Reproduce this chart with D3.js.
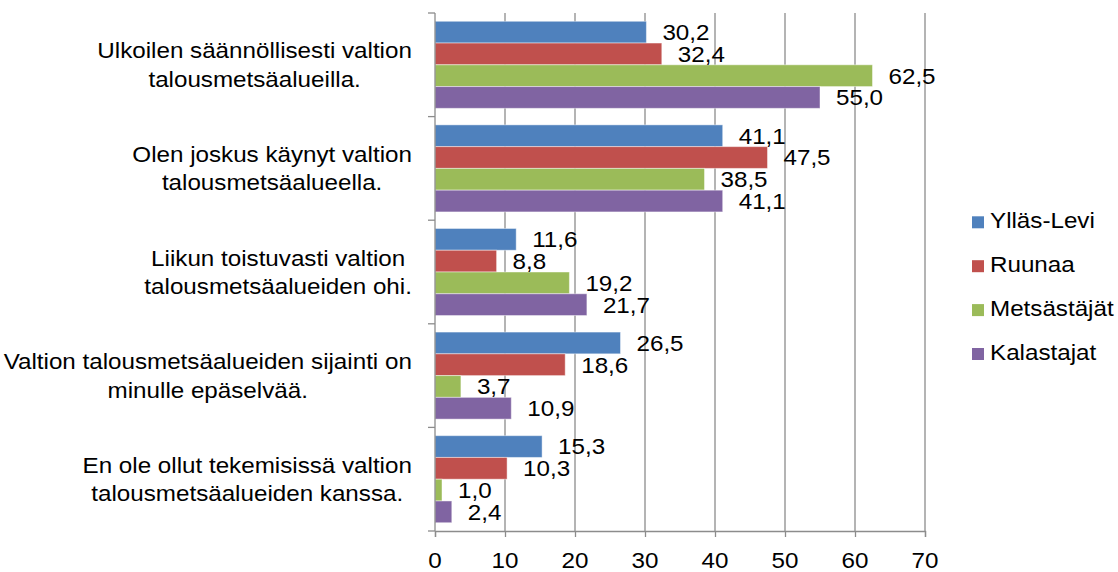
<!DOCTYPE html>
<html>
<head>
<meta charset="utf-8">
<script src="https://cdn.jsdelivr.net/npm/d3@7"></script>
<style>
  html, body { margin: 0; padding: 0; background: #fff; }
  svg text { font-family: "Liberation Sans", Arial, sans-serif; fill: #000; }
</style>
</head>
<body>
<svg id="chart" width="1118" height="572"></svg>
<script>
// ---- data ----
const categories = [
  ["Ulkoilen säännöllisesti valtion", "talousmetsäalueilla."],
  ["Olen joskus käynyt valtion", "talousmetsäalueella."],
  ["Liikun toistuvasti valtion", "talousmetsäalueiden ohi."],
  ["Valtion talousmetsäalueiden sijainti on", "minulle epäselvää."],
  ["En ole ollut tekemisissä valtion", "talousmetsäalueiden kanssa."]
];
const seriesNames = ["Ylläs-Levi", "Ruunaa", "Metsästäjät", "Kalastajat"];
const seriesColors = ["#4F81BD", "#C0504D", "#9BBB59", "#8064A2"];
const yllasLevi   = [30.2, 41.1, 11.6, 26.5, 15.3];
const ruunaa      = [32.4, 47.5, 8.8, 18.6, 10.3];
const metsastajat = [62.5, 38.5, 19.2, 3.7, 1.0];
const kalastajat  = [55.0, 41.1, 21.7, 10.9, 2.4];
const seriesValues = [yllasLevi, ruunaa, metsastajat, kalastajat];
const xTicks = [0, 10, 20, 30, 40, 50, 60, 70];

// ---- layout ----
const svg = d3.select("#chart");
const FS = 22;          // font size
const SX = 1.1;         // horizontal text stretch
const pLeft = 435, pRight = 925, pTop = 13, pBottom = 531;
const gridColor = "#8c8c8c";

const x = d3.scaleLinear().domain([0, 70]).range([pLeft, pRight]);
const catIdx = categories.map((d, i) => i);
const y = d3.scaleBand().domain(catIdx).range([pTop, pBottom]).paddingInner(0).paddingOuter(0);
const inner = d3.scaleBand().domain(d3.range(seriesNames.length))
  .range([0, y.bandwidth()]).paddingInner(0).paddingOuter(0.38);

function stretchedText(parent, tx, ty, str, anchor) {
  const g = parent.append("g").attr("transform", `translate(${tx},${ty}) scale(${SX},1)`);
  return g.append("text").attr("x", 0).attr("y", 0)
    .attr("text-anchor", anchor || "start")
    .style("font-size", FS + "px").text(str);
}

// gridlines
svg.append("g").selectAll("line").data(xTicks.filter(t => t > 0)).join("line")
  .attr("x1", d => x(d)).attr("x2", d => x(d))
  .attr("y1", pTop).attr("y2", pBottom)
  .attr("stroke", gridColor).attr("stroke-width", 1.3);

// bars
const groups = svg.append("g").selectAll("g").data(catIdx).join("g")
  .attr("transform", i => `translate(0,${y(i)})`);
groups.selectAll("rect")
  .data(i => seriesValues.map((vals, s) => ({ s, v: vals[i] })))
  .join("rect")
  .attr("x", x(0))
  .attr("y", d => inner(d.s))
  .attr("width", d => x(d.v) - x(0))
  .attr("height", inner.bandwidth())
  .attr("fill", d => seriesColors[d.s])
  .attr("stroke", "rgba(255,255,255,0.45)")
  .attr("stroke-width", 1);

// data labels
groups.each(function(i) {
  const g = d3.select(this);
  seriesValues.forEach((vals, s) => {
    const v = vals[i];
    const cy = inner(s) + inner.bandwidth() / 2;
    stretchedText(g, x(v) + 16, cy + 0.358 * FS, v.toFixed(1).replace(".", ","), "start");
  });
});

// axes
const xAxis = d3.axisBottom(x).tickValues(xTicks).tickSize(6).tickPadding(19).tickFormat(d => d);
const xg = svg.append("g").attr("transform", `translate(0,${pBottom})`).call(xAxis);
xg.select(".domain").attr("stroke", gridColor).attr("stroke-width", 1.3);
xg.selectAll(".tick line").attr("stroke", gridColor).attr("stroke-width", 1.3);
xg.selectAll(".tick text").remove();
xTicks.forEach(t => stretchedText(svg, x(t), 568, String(t), "middle"));

// y axis line + boundary ticks
svg.append("line").attr("x1", pLeft).attr("x2", pLeft).attr("y1", pTop).attr("y2", pBottom)
  .attr("stroke", gridColor).attr("stroke-width", 1.3);
const bounds = catIdx.map(i => y(i)).concat([pBottom]);
svg.append("g").selectAll("line").data(bounds).join("line")
  .attr("x1", pLeft - 7).attr("x2", pLeft).attr("y1", d => d).attr("y2", d => d)
  .attr("stroke", gridColor).attr("stroke-width", 1.3);

// category labels (block right-aligned, lines centered)
const labelRight = 412;
catIdx.forEach(i => {
  const lines = categories[i];
  const cy = y(i) + y.bandwidth() / 2;
  const widths = lines.map(l => {
    const t = svg.append("text").style("font-size", FS + "px").text(l);
    const w = t.node().getComputedTextLength() * SX;
    t.remove();
    return w;
  });
  const maxW = d3.max(widths);
  const cx = labelRight - maxW / 2;
  const spacing = 28.4;
  lines.forEach((l, k) => {
    const capC = cy + (k - (lines.length - 1) / 2) * spacing;
    stretchedText(svg, cx, capC + 0.358 * FS, l, "middle");
  });
});

// legend
const legBase = [228.3, 272.2, 316.1, 360];
const leg = svg.append("g");
seriesNames.forEach((n, s) => {
  leg.append("rect").attr("x", 972).attr("y", legBase[s] - 12).attr("width", 12).attr("height", 12)
    .attr("fill", seriesColors[s]);
  stretchedText(leg, 990, legBase[s], n, "start");
});
</script>
</body>
</html>
